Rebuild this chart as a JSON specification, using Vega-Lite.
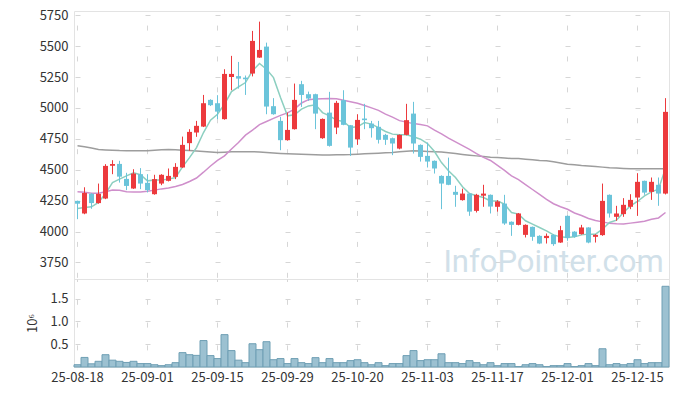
{
"$schema": "https://vega.github.io/schema/vega-lite/v6.json",
"padding": {"left": 26, "top": 8, "right": 9, "bottom": 5},
"background": "white",
"config": {
  "view": {"stroke": "#e3e3e3", "strokeWidth": 1},
  "font": "Noto Sans CJK KR",
  "axis": {"labelFont": "Noto Sans CJK KR", "labelFontSize": 13, "labelColor": "#333333", "domain": false, "ticks": false, "gridColor": "#d6d6d6", "gridWidth": 1, "titleFont": "Noto Sans CJK KR", "titleFontWeight": "normal", "titleFontSize": 13, "titleColor": "#333333"}
},
"datasets": {"k": [
{"d":"25-08-18","o":4248,"h":4250,"l":4100,"c":4225,"v":50000,"m5":4186,"m20":4321,"m120":4693},
{"d":"25-08-19","o":4146,"h":4358,"l":4140,"c":4312,"v":210000,"m5":4195,"m20":4318,"m120":4685},
{"d":"25-08-20","o":4305,"h":4312,"l":4184,"c":4230,"v":70000,"m5":4200,"m20":4310,"m120":4675},
{"d":"25-08-21","o":4230,"h":4388,"l":4225,"c":4305,"v":125000,"m5":4235,"m20":4310,"m120":4663},
{"d":"25-08-22","o":4267,"h":4545,"l":4262,"c":4531,"v":270000,"m5":4307,"m20":4322,"m120":4660},
{"d":"25-08-25","o":4532,"h":4577,"l":4464,"c":4546,"v":150000,"m5":4396,"m20":4335,"m120":4658},
{"d":"25-08-26","o":4547,"h":4572,"l":4396,"c":4444,"v":125000,"m5":4424,"m20":4333,"m120":4655},
{"d":"25-08-27","o":4426,"h":4475,"l":4335,"c":4369,"v":100000,"m5":4450,"m20":4322,"m120":4654},
{"d":"25-08-28","o":4348,"h":4504,"l":4345,"c":4469,"v":125000,"m5":4475,"m20":4320,"m120":4653},
{"d":"25-08-29","o":4464,"h":4513,"l":4343,"c":4388,"v":75000,"m5":4459,"m20":4320,"m120":4653},
{"d":"25-09-01","o":4394,"h":4464,"l":4316,"c":4335,"v":75000,"m5":4410,"m20":4325,"m120":4653},
{"d":"25-09-02","o":4302,"h":4459,"l":4298,"c":4424,"v":50000,"m5":4416,"m20":4335,"m120":4657},
{"d":"25-09-03","o":4388,"h":4464,"l":4375,"c":4459,"v":30000,"m5":4416,"m20":4345,"m120":4661},
{"d":"25-09-04","o":4410,"h":4510,"l":4405,"c":4450,"v":50000,"m5":4424,"m20":4352,"m120":4663},
{"d":"25-09-05","o":4442,"h":4553,"l":4424,"c":4523,"v":95000,"m5":4437,"m20":4365,"m120":4661},
{"d":"25-09-08","o":4518,"h":4768,"l":4515,"c":4701,"v":315000,"m5":4523,"m20":4380,"m120":4658},
{"d":"25-09-09","o":4715,"h":4828,"l":4653,"c":4806,"v":270000,"m5":4598,"m20":4405,"m120":4656},
{"d":"25-09-10","o":4801,"h":4895,"l":4766,"c":4855,"v":255000,"m5":4679,"m20":4433,"m120":4652},
{"d":"25-09-11","o":4849,"h":5105,"l":4845,"c":5038,"v":580000,"m5":4801,"m20":4480,"m120":4647},
{"d":"25-09-12","o":5065,"h":5070,"l":5015,"c":5022,"v":250000,"m5":4901,"m20":4530,"m120":4643},
{"d":"25-09-15","o":5038,"h":5103,"l":4909,"c":4970,"v":185000,"m5":4949,"m20":4575,"m120":4640},
{"d":"25-09-16","o":4909,"h":5313,"l":4905,"c":5275,"v":710000,"m5":5030,"m20":4612,"m120":4642},
{"d":"25-09-17","o":5250,"h":5421,"l":5143,"c":5275,"v":360000,"m5":5132,"m20":4668,"m120":4645},
{"d":"25-09-18","o":5257,"h":5372,"l":5156,"c":5237,"v":150000,"m5":5170,"m20":4720,"m120":4646},
{"d":"25-09-19","o":5245,"h":5262,"l":5105,"c":5232,"v":95000,"m5":5205,"m20":4780,"m120":4646},
{"d":"25-09-22","o":5278,"h":5623,"l":5255,"c":5542,"v":510000,"m5":5300,"m20":4820,"m120":4646},
{"d":"25-09-23","o":5407,"h":5698,"l":5405,"c":5469,"v":380000,"m5":5359,"m20":4865,"m120":4643},
{"d":"25-09-24","o":5496,"h":5528,"l":4949,"c":5011,"v":555000,"m5":5313,"m20":4890,"m120":4639},
{"d":"25-09-25","o":5014,"h":5079,"l":4945,"c":4949,"v":160000,"m5":5245,"m20":4915,"m120":4635},
{"d":"25-09-26","o":4895,"h":4928,"l":4658,"c":4739,"v":185000,"m5":5084,"m20":4940,"m120":4632},
{"d":"25-09-29","o":4739,"h":4962,"l":4735,"c":4822,"v":75000,"m5":4936,"m20":4960,"m120":4629},
{"d":"25-09-30","o":4828,"h":5197,"l":4825,"c":5065,"v":185000,"m5":4944,"m20":4990,"m120":4627},
{"d":"25-10-01","o":5192,"h":5219,"l":5008,"c":5105,"v":95000,"m5":4990,"m20":5040,"m120":4626},
{"d":"25-10-02","o":5111,"h":5132,"l":5057,"c":5076,"v":75000,"m5":5016,"m20":5067,"m120":4624},
{"d":"25-10-10","o":5111,"h":5115,"l":4828,"c":4954,"v":205000,"m5":5025,"m20":5073,"m120":4622},
{"d":"25-10-13","o":4755,"h":4915,"l":4750,"c":4911,"v":95000,"m5":4962,"m20":5075,"m120":4620},
{"d":"25-10-14","o":4962,"h":5130,"l":4687,"c":4693,"v":185000,"m5":4936,"m20":5076,"m120":4620},
{"d":"25-10-15","o":4841,"h":5057,"l":4788,"c":5041,"v":95000,"m5":4901,"m20":5074,"m120":4621},
{"d":"25-10-16","o":5063,"h":5143,"l":4860,"c":4863,"v":95000,"m5":4890,"m20":5062,"m120":4622},
{"d":"25-10-17","o":4860,"h":4862,"l":4612,"c":4679,"v":140000,"m5":4841,"m20":5050,"m120":4623},
{"d":"25-10-20","o":4747,"h":4949,"l":4701,"c":4903,"v":160000,"m5":4847,"m20":5038,"m120":4626},
{"d":"25-10-21","o":4914,"h":5033,"l":4828,"c":4901,"v":95000,"m5":4881,"m20":5020,"m120":4629},
{"d":"25-10-22","o":4873,"h":4895,"l":4760,"c":4836,"v":50000,"m5":4869,"m20":5000,"m120":4631},
{"d":"25-10-23","o":4847,"h":4895,"l":4712,"c":4742,"v":95000,"m5":4841,"m20":4980,"m120":4634},
{"d":"25-10-24","o":4782,"h":4790,"l":4701,"c":4742,"v":30000,"m5":4809,"m20":4950,"m120":4637},
{"d":"25-10-27","o":4755,"h":4760,"l":4618,"c":4712,"v":75000,"m5":4788,"m20":4925,"m120":4640},
{"d":"25-10-28","o":4671,"h":4785,"l":4665,"c":4782,"v":75000,"m5":4782,"m20":4897,"m120":4645},
{"d":"25-10-29","o":4782,"h":5033,"l":4778,"c":4901,"v":250000,"m5":4782,"m20":4885,"m120":4650},
{"d":"25-10-30","o":4954,"h":5049,"l":4631,"c":4712,"v":360000,"m5":4766,"m20":4873,"m120":4653},
{"d":"25-10-31","o":4701,"h":4705,"l":4566,"c":4604,"v":140000,"m5":4747,"m20":4865,"m120":4651},
{"d":"25-11-03","o":4612,"h":4720,"l":4518,"c":4566,"v":160000,"m5":4712,"m20":4855,"m120":4648},
{"d":"25-11-04","o":4572,"h":4575,"l":4469,"c":4510,"v":160000,"m5":4647,"m20":4820,"m120":4646},
{"d":"25-11-05","o":4450,"h":4455,"l":4181,"c":4388,"v":290000,"m5":4558,"m20":4790,"m120":4644},
{"d":"25-11-06","o":4450,"h":4598,"l":4375,"c":4378,"v":95000,"m5":4491,"m20":4755,"m120":4638},
{"d":"25-11-07","o":4321,"h":4370,"l":4200,"c":4297,"v":95000,"m5":4437,"m20":4725,"m120":4631},
{"d":"25-11-10","o":4254,"h":4347,"l":4250,"c":4307,"v":75000,"m5":4362,"m20":4695,"m120":4624},
{"d":"25-11-11","o":4307,"h":4310,"l":4127,"c":4161,"v":140000,"m5":4307,"m20":4665,"m120":4618},
{"d":"25-11-12","o":4167,"h":4305,"l":4154,"c":4297,"v":95000,"m5":4289,"m20":4630,"m120":4612},
{"d":"25-11-13","o":4290,"h":4378,"l":4200,"c":4307,"v":50000,"m5":4275,"m20":4600,"m120":4606},
{"d":"25-11-14","o":4297,"h":4300,"l":4146,"c":4202,"v":95000,"m5":4248,"m20":4575,"m120":4601},
{"d":"25-11-17","o":4200,"h":4254,"l":4161,"c":4243,"v":30000,"m5":4248,"m20":4535,"m120":4598},
{"d":"25-11-18","o":4226,"h":4297,"l":4054,"c":4065,"v":75000,"m5":4221,"m20":4495,"m120":4594},
{"d":"25-11-19","o":4079,"h":4082,"l":3965,"c":4054,"v":75000,"m5":4154,"m20":4450,"m120":4591},
{"d":"25-11-20","o":4054,"h":4150,"l":4050,"c":4146,"v":10000,"m5":4141,"m20":4420,"m120":4590},
{"d":"25-11-21","o":3973,"h":4058,"l":3952,"c":4054,"v":50000,"m5":4087,"m20":4380,"m120":4585},
{"d":"25-11-24","o":4038,"h":4040,"l":3925,"c":3957,"v":75000,"m5":4060,"m20":4340,"m120":4580},
{"d":"25-11-25","o":3965,"h":3970,"l":3898,"c":3903,"v":50000,"m5":4033,"m20":4300,"m120":4575},
{"d":"25-11-26","o":3947,"h":3984,"l":3903,"c":3965,"v":10000,"m5":4006,"m20":4260,"m120":4572},
{"d":"25-11-27","o":3973,"h":3978,"l":3884,"c":3898,"v":30000,"m5":3973,"m20":4225,"m120":4565},
{"d":"25-11-28","o":3911,"h":4046,"l":3908,"c":4011,"v":30000,"m5":3957,"m20":4200,"m120":4555},
{"d":"25-12-01","o":4127,"h":4130,"l":3925,"c":3947,"v":75000,"m5":3952,"m20":4180,"m120":4545},
{"d":"25-12-02","o":3999,"h":4003,"l":3950,"c":3957,"v":10000,"m5":3957,"m20":4150,"m120":4540},
{"d":"25-12-03","o":3979,"h":4054,"l":3975,"c":4033,"v":30000,"m5":3973,"m20":4130,"m120":4534},
{"d":"25-12-04","o":4033,"h":4035,"l":3905,"c":3911,"v":75000,"m5":3979,"m20":4105,"m120":4530},
{"d":"25-12-05","o":3957,"h":3978,"l":3911,"c":3973,"v":30000,"m5":3979,"m20":4090,"m120":4526},
{"d":"25-12-08","o":3971,"h":4388,"l":3965,"c":4248,"v":400000,"m5":4019,"m20":4078,"m120":4521},
{"d":"25-12-09","o":4297,"h":4300,"l":4113,"c":4146,"v":50000,"m5":4073,"m20":4066,"m120":4516},
{"d":"25-12-10","o":4119,"h":4208,"l":4087,"c":4146,"v":75000,"m5":4092,"m20":4062,"m120":4513},
{"d":"25-12-11","o":4141,"h":4270,"l":4119,"c":4216,"v":50000,"m5":4154,"m20":4060,"m120":4510},
{"d":"25-12-12","o":4200,"h":4302,"l":4181,"c":4256,"v":75000,"m5":4208,"m20":4068,"m120":4508},
{"d":"25-12-15","o":4275,"h":4472,"l":4127,"c":4402,"v":160000,"m5":4243,"m20":4076,"m120":4507},
{"d":"25-12-16","o":4410,"h":4412,"l":4297,"c":4315,"v":75000,"m5":4289,"m20":4083,"m120":4507},
{"d":"25-12-17","o":4321,"h":4437,"l":4256,"c":4402,"v":95000,"m5":4321,"m20":4100,"m120":4507},
{"d":"25-12-18","o":4378,"h":4437,"l":4208,"c":4307,"v":95000,"m5":4343,"m20":4110,"m120":4507},
{"d":"25-12-19","o":4307,"h":5079,"l":4300,"c":4968,"v":1770000,"m5":4513,"m20":4154,"m120":4507}
]},
"spacing": 0,
"bounds": "flush",
"vconcat": [
{
  "width": 595, "height": 268,
  "data": {"name": "k"},
  "encoding": {
    "x": {"field": "d", "type": "ordinal", "sort": null, "scale": {"paddingInner": 0, "paddingOuter": 0},
      "axis": {"values": ["25-08-18","25-09-01","25-09-15","25-09-29","25-10-20","25-11-03","25-11-17","25-12-01","25-12-15"], "labels": false, "title": null, "grid": true, "gridDash": [5, 25.904], "gridDashOffset": 16.839}}
  },
  "layer": [
    {"mark": {"type": "line", "color": "#9d9d9d", "strokeWidth": 1.5},
     "encoding": {"y": {"field": "m120", "type": "quantitative", "scale": {"domain": [3616, 5784], "nice": false, "zero": false},
       "axis": {"values": [3750, 4000, 4250, 4500, 4750, 5000, 5250, 5500, 5750], "format": "d", "title": null, "labelPadding": 6, "grid": true, "gridDash": [5, 65], "gridDashOffset": 69}}}},
    {"mark": {"type": "line", "color": "#cf8fcb", "strokeWidth": 1.5},
     "encoding": {"y": {"field": "m20", "type": "quantitative", "scale": {"domain": [3616, 5784], "nice": false, "zero": false},
       "axis": {"values": [3750, 4000, 4250, 4500, 4750, 5000, 5250, 5500, 5750], "format": "d", "title": null, "labelPadding": 6, "grid": true, "gridDash": [5, 65], "gridDashOffset": 69}}}},
    {"mark": {"type": "line", "color": "#8ccfc0", "strokeWidth": 1.5},
     "encoding": {"y": {"field": "m5", "type": "quantitative", "scale": {"domain": [3616, 5784], "nice": false, "zero": false},
       "axis": {"values": [3750, 4000, 4250, 4500, 4750, 5000, 5250, 5500, 5750], "format": "d", "title": null, "labelPadding": 6, "grid": true, "gridDash": [5, 65], "gridDashOffset": 69}}}},
    {"mark": {"type": "rule", "strokeWidth": 1},
     "encoding": {
       "y": {"field": "l", "type": "quantitative", "scale": {"domain": [3616, 5784], "nice": false, "zero": false},
         "axis": {"values": [3750, 4000, 4250, 4500, 4750, 5000, 5250, 5500, 5750], "format": "d", "title": null, "labelPadding": 6, "grid": true, "gridDash": [5, 65], "gridDashOffset": 69}},
       "y2": {"field": "h"},
       "color": {"condition": {"test": "datum.c >= datum.o", "value": "#ec3a3d"}, "value": "#6bc4da"}}},
    {"mark": {"type": "bar", "size": 5},
     "encoding": {
       "y": {"field": "o", "type": "quantitative", "scale": {"domain": [3616, 5784], "nice": false, "zero": false},
         "axis": {"values": [3750, 4000, 4250, 4500, 4750, 5000, 5250, 5500, 5750], "format": "d", "title": null, "labelPadding": 6, "grid": true, "gridDash": [5, 65], "gridDashOffset": 69}},
       "y2": {"field": "c"},
       "color": {"condition": {"test": "datum.c >= datum.o", "value": "#ec3a3d"}, "value": "#6bc4da"}}},
    {"transform": [{"filter": "datum.d == '25-11-27'"}],
     "mark": {"type": "text", "font": "Roboto", "fontSize": 31, "fill": "#c9dbe6", "opacity": 0.85, "baseline": "alphabetic", "align": "center"},
     "encoding": {
       "y": {"datum": 3674, "type": "quantitative", "scale": {"domain": [3616, 5784], "nice": false, "zero": false},
         "axis": {"values": [3750, 4000, 4250, 4500, 4750, 5000, 5250, 5500, 5750], "format": "d", "title": null, "labelPadding": 6, "grid": true, "gridDash": [5, 65], "gridDashOffset": 69}},
       "text": {"value": "InfoPointer.com"}}}
  ]
},
{
  "width": 595, "height": 88,
  "data": {"name": "k"},
  "mark": {"type": "bar", "fill": "#9cc1d1", "stroke": "#6f9fb4", "strokeWidth": 1},
  "encoding": {
    "x": {"field": "d", "type": "ordinal", "sort": null, "scale": {"paddingInner": 0, "paddingOuter": 0},
      "axis": {"values": ["25-08-18","25-09-01","25-09-15","25-09-29","25-10-20","25-11-03","25-11-17","25-12-01","25-12-15"], "title": null, "labelAngle": 0, "labelOverlap": false, "labelPadding": 4, "grid": true, "gridDash": [5, 17.8], "gridDashOffset": 2.5}},
    "y": {"field": "v", "type": "quantitative", "scale": {"domain": [0, 1930000], "nice": false},
      "axis": {"values": [500000, 1000000, 1500000], "labelExpr": "format(datum.value/1000000, '.1f')", "title": "10⁶", "titlePadding": 10, "labelPadding": 6, "grid": true, "gridDash": [5, 65], "gridDashOffset": 69}}
  }
}
]
}
